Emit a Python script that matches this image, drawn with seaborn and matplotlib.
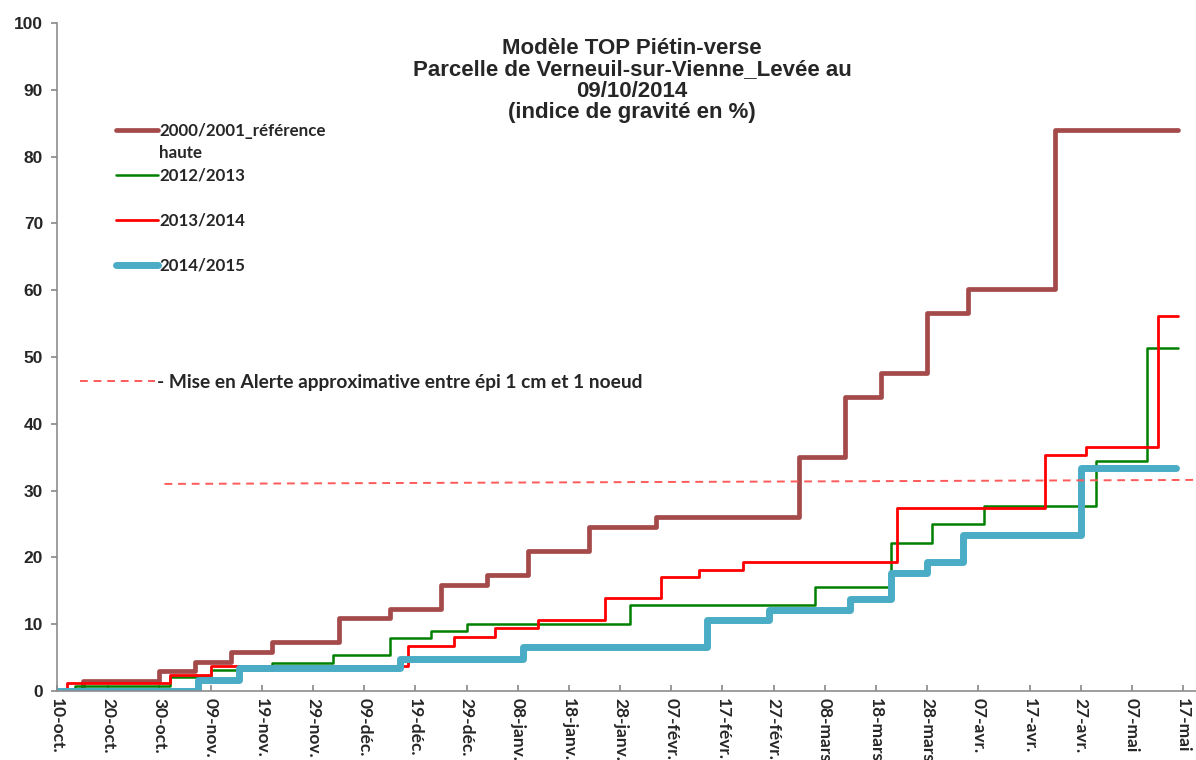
import matplotlib
matplotlib.use("Agg")
import matplotlib.pyplot as plt
from matplotlib.lines import Line2D
import seaborn as sns
import pandas as pd

# ---- data (day offset from 10-oct, severity index %) ----
ref_days = [0, 4, 5, 20, 27, 34, 42, 55, 65, 75, 84, 92, 104, 117, 145, 154, 161, 170, 178, 195, 219]
ref_vals = [None, 0, 1.5, 3.0, 4.3, 5.8, 7.3, 11.0, 12.3, 15.9, 17.4, 21.0, 24.6, 26.0, 35.0, 44.0, 47.6, 56.6, 60.2, 84.0, 84.0]

g13_days = [0, 3.5, 22, 30, 42, 54, 65, 73, 80, 112, 148, 163, 171, 181, 203, 213, 219]
g13_vals = [0, 0.7, 2.1, 3.1, 4.2, 5.4, 8.0, 9.0, 10.1, 12.9, 15.6, 22.2, 25.0, 27.7, 34.4, 51.3, 51.3]

r14_days = [0, 2, 22, 30, 68.5, 77.5, 85.5, 94, 107, 118, 125.5, 134, 164, 193, 201, 215, 219]
r14_vals = [0, 1.2, 2.4, 3.7, 6.8, 8.1, 9.4, 10.6, 13.9, 17.1, 18.1, 19.3, 27.4, 35.3, 36.5, 56.2, 56.2]

b15_days = [0, 27.5, 35.5, 67, 91, 127, 139, 155, 163, 170, 177, 200, 218.5]
b15_vals = [0, 1.6, 3.4, 4.8, 6.6, 10.6, 12.2, 13.8, 17.7, 19.3, 23.4, 33.4, 33.4]

alert_days = [21, 222.5]
alert_vals = [31.0, 31.6]

tick_days = list(range(0, 221, 10))
tick_labels = ['10-oct.', '20-oct.', '30-oct.', '09-nov.', '19-nov.', '29-nov.', '09-déc.',
               '19-déc.', '29-déc.', '08-janv.', '18-janv.', '28-janv.', '07-févr.', '17-févr.',
               '27-févr.', '08-mars', '18-mars', '28-mars', '07-avr.', '17-avr.', '27-avr.',
               '07-mai', '17-mai']

series_names = ['2000/2001_référence\nhaute', '2012/2013', '2013/2014', '2014/2015']
series_colors = ['#A54A4A', '#008000', '#FF0000', '#4BACC6']
series_widths = [3.4, 1.8, 2.0, 5.0]

title_text = "Modèle TOP Piétin-verse\nParcelle de Verneuil-sur-Vienne_Levée au\n09/10/2014\n(indice de gravité en %)"
alert_label = "- Mise en Alerte approximative entre épi 1 cm et 1 noeud"

# ---- style ----
sns.set_theme(style="white")
plt.rcParams['font.family'] = ['Liberation Sans', 'DejaVu Sans']

fig = plt.figure(figsize=(11.96, 7.6), dpi=100)
ax = fig.add_axes([57/1196, 1-691/760, 1-57/1196, (691-23)/760])

all_series = [(ref_days, ref_vals), (g13_days, g13_vals), (r14_days, r14_vals), (b15_days, b15_vals)]
for (d, v), name, c, w in zip(all_series, series_names, series_colors, series_widths):
    df = pd.DataFrame({'day': d, 'value': v}).dropna()
    sns.lineplot(data=df, x='day', y='value', ax=ax, color=c, linewidth=w,
                 drawstyle='steps-post', estimator=None, sort=False,
                 solid_joinstyle='round', solid_capstyle='round')

adf = pd.DataFrame({'day': alert_days, 'value': alert_vals})
sns.lineplot(data=adf, x='day', y='value', ax=ax, color='#FF5A5A', linewidth=1.4,
             linestyle=(0, (4, 3)), estimator=None)

ax.set_xlim(0, 222.5)
ax.set_ylim(0, 100)
ax.set_xlabel('')
ax.set_ylabel('')
ax.set_yticks(range(0, 101, 10))
ax.set_yticklabels([str(v) for v in range(0, 101, 10)], fontsize=12.5, fontweight='bold',
                   family=['Liberation Sans'])
ax.set_xticks(tick_days)
ax.set_xticklabels(tick_labels, rotation=270, fontsize=12.5, fontweight='bold',
                   family=['Lato', 'DejaVu Sans'], va='top', ha='center')

for s in ['top', 'right']:
    ax.spines[s].set_visible(False)
for s in ['left', 'bottom']:
    ax.spines[s].set_color('#8C8C8C')
    ax.spines[s].set_linewidth(1.2)
ax.tick_params(axis='y', direction='out', length=4, color='#8C8C8C', pad=6, left=True)
ax.tick_params(axis='x', direction='in', length=4, color='#8C8C8C', pad=5, bottom=True)
ax.grid(False)

# legend of seasons
blank = Line2D([], [], linestyle='none')
handles = [Line2D([], [], color=series_colors[0], linewidth=series_widths[0]), blank,
           Line2D([], [], color=series_colors[1], linewidth=series_widths[1]), blank,
           Line2D([], [], color=series_colors[2], linewidth=series_widths[2]), blank,
           Line2D([], [], color=series_colors[3], linewidth=series_widths[3])]
labels = ['2000/2001_référence', 'haute', '2012/2013', '', '2013/2014', '', '2014/2015']
leg = fig.legend(handles, labels, loc='upper left', bbox_to_anchor=(116/1196, 1-123/760),
                 frameon=False, handlelength=2.5, handletextpad=0.05, labelspacing=0.38,
                 borderpad=0, borderaxespad=0,
                 prop={'family': ['Lato', 'DejaVu Sans'], 'weight': 'bold', 'size': 12.2})

# alert legend
h2 = [Line2D([], [], color='#FF5A5A', linewidth=1.4, linestyle=(0, (4, 3)))]
leg2 = fig.legend(h2, [alert_label], loc='upper left', bbox_to_anchor=(80/1196, 1-374/760),
                  frameon=False, handlelength=3.9, handletextpad=0.1, borderpad=0, borderaxespad=0,
                  prop={'family': ['Lato', 'DejaVu Sans'], 'weight': 'bold', 'size': 13.8})

fig.text(632/1196, 1-38/760, title_text, ha='center', va='top', fontsize=16,
         fontweight='bold', linespacing=1.02, family=['Liberation Sans', 'DejaVu Sans'])

fig.savefig('out.png', dpi=100)
